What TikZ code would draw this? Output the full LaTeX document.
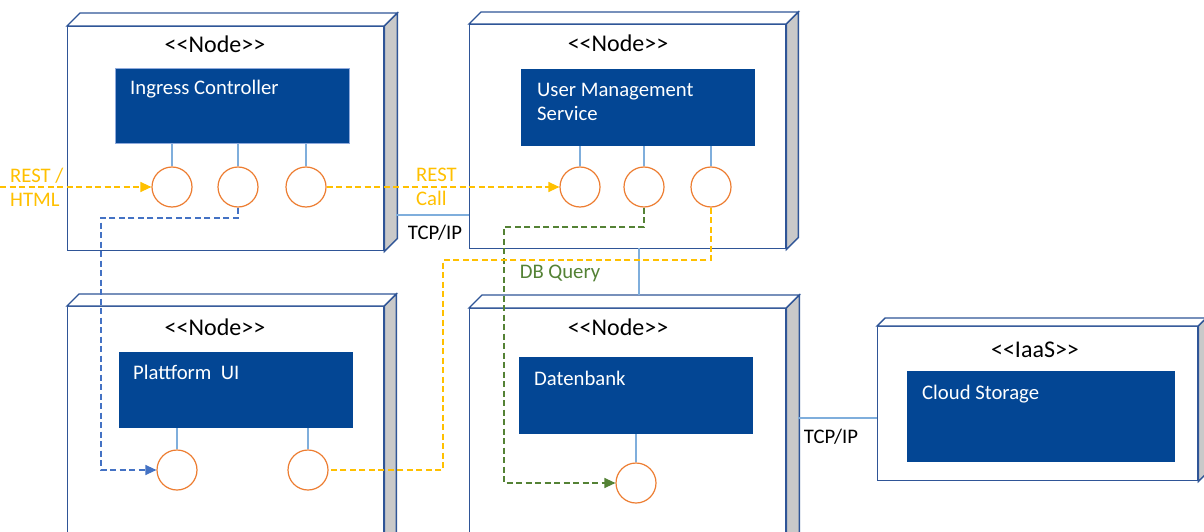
\documentclass[tikz,border=0pt]{standalone}
\usepackage{fontspec}
\setmainfont{Carlito}
\usetikzlibrary{calc,arrows.meta}
\definecolor{nodeline}{HTML}{2F5597}
\definecolor{boxblue}{HTML}{034694}
\definecolor{boxedge}{HTML}{8FAADC}
\definecolor{sidegray}{HTML}{C9C9C9}
\definecolor{stemblue}{HTML}{7FAEDC}
\definecolor{portorange}{HTML}{ED7D31}
\definecolor{yel}{HTML}{FFC000}
\definecolor{grn}{HTML}{548235}
\definecolor{dblue}{HTML}{4472C4}
\newcommand\cubefaces[2]{%
  \draw[face] (#1.north west) -- ++(#2,-#2) -- ($(#1.north east)+(#2,-#2)$) -- (#1.north east) -- cycle;
  \draw[face, fill=sidegray] (#1.north east) -- ++(#2,-#2) -- ($(#1.south east)+(#2,-#2)$) -- (#1.south east) -- cycle;
}
\newcommand\stereotxt[1]{{<}{<}#1{>}{>}}
\tikzset{
  front/.style={draw=nodeline, line width=1.4pt, fill=white, inner sep=0pt, anchor=north west},
  face/.style={draw=nodeline, line width=1.4pt, fill=white, line join=miter},
  comp/.style={fill=boxblue, inner sep=0pt, anchor=north west},
  comptext/.style={text=white, inner sep=0pt, anchor=base west, align=left, font=\fontsize{20.7}{24}\selectfont},
  stereo/.style={inner sep=0pt, anchor=base, font=\fontsize{24}{28}\selectfont},
  port/.style={circle, draw=portorange, line width=1.2pt, fill=white, minimum size=40pt, inner sep=0pt},
  stem/.style={draw=stemblue, line width=1.3pt},
  dashline/.style={line width=1.3pt, dash pattern=on 6pt off 3.5pt},
  arrowend/.style={-{Triangle[length=11pt,width=10pt]}},
  lbl/.style={inner sep=0pt, align=left, font=\fontsize{20.7}{24}\selectfont},
}
\begin{document}
\begin{tikzpicture}[x=1pt,y=-1pt]
\useasboundingbox (0,0) rectangle (1204,532);
\clip (0,0) rectangle (1204,532);
\fill[white] (0,0) rectangle (1204,532);
% deployment nodes
\node[front, minimum width=316pt, minimum height=224pt] (n1) at (67,26) {};
\cubefaces{n1}{13}
\node[front, minimum width=316pt, minimum height=224pt] (n2) at (469,24) {};
\cubefaces{n2}{12}
\node[front, minimum width=316pt, minimum height=260pt] (n3) at (67,306) {};
\cubefaces{n3}{12}
\node[front, minimum width=316pt, minimum height=260pt] (n4) at (469,308) {};
\cubefaces{n4}{13}
\node[front, minimum width=320pt, minimum height=154pt] (n5) at (877,326) {};
\cubefaces{n5}{8}
% stereotypes
\node[stereo] (s1) at (215,53) {\stereotxt{Node}};
\node[stereo] (s2) at (618,52) {\stereotxt{Node}};
\node[stereo] (s3) at (215,335) {\stereotxt{Node}};
\node[stereo] (s4) at (618,335) {\stereotxt{Node}};
\node[stereo] (s5) at (1035,357) {\stereotxt{IaaS}};
% components
\node[comp, draw=boxedge, line width=1pt, minimum width=234pt, minimum height=75pt] (c1) at (115,68) {};
\node[comp, minimum width=234pt, minimum height=77pt] (c2) at (521,69) {};
\node[comp, minimum width=234pt, minimum height=76pt] (c3) at (119,352) {};
\node[comp, minimum width=234pt, minimum height=77pt] (c4) at (519,357) {};
\node[comp, minimum width=268pt, minimum height=91pt] (c5) at (907,371) {};
\node[comptext] (t1) at ($(c1.north west)+(15,27)$) {Ingress Controller};
\node[comptext] (t2) at ($(c2.north west)+(16,52)$) {User Management\\Service};
\node[comptext] (t3) at ($(c3.north west)+(14,27)$) {Plattform~ UI};
\node[comptext] (t4) at ($(c4.north west)+(15,28)$) {Datenbank};
\node[comptext] (t5) at ($(c5.north west)+(15,28)$) {Cloud Storage};
% ports
\node[port] (p11) at (172,187) {};
\node[port] (p12) at (238,187) {};
\node[port] (p13) at (306,187) {};
\node[port] (p21) at (580,187) {};
\node[port] (p22) at (644,187) {};
\node[port] (p23) at (711,187) {};
\node[port] (p31) at (177,470) {};
\node[port] (p32) at (308,470) {};
\node[port] (p41) at (636,483) {};
% stems
\foreach \p/\c in {p11/c1,p12/c1,p13/c1,p21/c2,p22/c2,p23/c2,p31/c3,p32/c3,p41/c4}
  \draw[stem] (\p.north) -- (\p.north |- \c.south);
% physical links
\coordinate (l1) at (396,215);
\draw[stem] (l1) -- (l1 -| n2.west);
\coordinate (l2) at (639,248);
\coordinate (l3) at (639,295);
\draw[stem] (l2) -- (l3);
\coordinate (l4) at (798,418);
\draw[stem] (l4) -- (l4 -| n5.west);
\node[lbl] (tcp1) at (435,233) {TCP/IP};
\node[lbl] (tcp2) at (831,437) {TCP/IP};
% dashed flows
\coordinate (in) at (0,187);
\draw[dashline, draw=yel, arrowend, yel] (in) -- (p11.west);
\node[lbl, text=yel, anchor=west] (rh) at (10,187) {REST /\\HTML};
\draw[dashline, draw=yel, arrowend, yel] (p13.east) -- (p21.west);
\node[lbl, text=yel, anchor=west] (rc) at (416,187) {REST\\Call};
\coordinate (b1) at (101,218);
\draw[dashline, draw=dblue, arrowend, dblue] (p12.south) |- (b1) |- (p31.west);
\coordinate (g1) at (504,227);
\draw[dashline, draw=grn, arrowend, grn] (p22.south) |- (g1) |- (p41.west);
\node[lbl, text=grn] (dbq) at (560,273) {DB Query};
\coordinate (y1) at (443,260);
\draw[dashline, draw=yel] (p23.south) |- (y1) |- (p32.east);
\end{tikzpicture}
\end{document}
